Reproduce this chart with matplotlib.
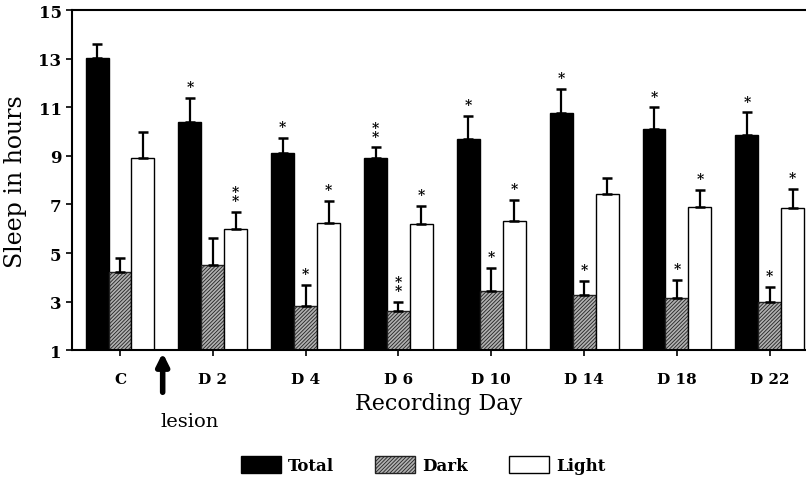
import numpy as np
import matplotlib
matplotlib.use('Agg')
import matplotlib.pyplot as plt

plt.rcParams['font.family'] = 'DejaVu Serif'
plt.rcParams['hatch.linewidth'] = 0.6

# data
days = ['C', 'D 2', 'D 4', 'D 6', 'D 10', 'D 14', 'D 18', 'D 22']
total = [13.05, 10.4, 9.1, 8.9, 9.7, 10.75, 10.1, 9.85]
total_err = [0.55, 1.0, 0.65, 0.45, 0.95, 1.0, 0.9, 0.95]
dark = [4.2, 4.5, 2.8, 2.6, 3.45, 3.25, 3.15, 3.0]
dark_err = [0.6, 1.1, 0.9, 0.4, 0.95, 0.6, 0.75, 0.6]
light = [8.9, 6.0, 6.25, 6.2, 6.3, 7.45, 6.9, 6.85]
light_err = [1.1, 0.7, 0.9, 0.75, 0.9, 0.65, 0.7, 0.8]
total_sig = ['', '*', '*', '**', '*', '*', '*', '*']
dark_sig = ['', '', '*', '**', '*', '*', '*', '*']
light_sig = ['', '**', '*', '*', '*', '', '*', '*']

x = np.arange(len(days))
w = 0.247

fig = plt.figure(figsize=(8.06, 4.85), dpi=100)
ax = fig.add_axes([0.0893, 0.276, 0.9107, 0.701])

series = [
    (total, total_err, total_sig, -w, dict(color='black', edgecolor='black'), 'Total'),
    (dark, dark_err, dark_sig, 0, dict(color='#b0b0b0', edgecolor='#222222', hatch='/////////'), 'Dark'),
    (light, light_err, light_sig, w, dict(color='white', edgecolor='black'), 'Light'),
]

for vals, err, sig, off, style, lab in series:
    ax.bar(x + off, vals, w, linewidth=1.0, label=lab, **style)
    ax.errorbar(x + off, vals, yerr=[np.zeros(len(vals)), err], fmt='none',
                ecolor='black', elinewidth=1.6, capsize=3.5, capthick=1.8)
    for xi, v, e, s in zip(x + off, vals, err, sig):
        if s:
            ax.text(xi, v + e + 0.15, '\n'.join(s), ha='center', va='bottom',
                    fontsize=10, fontweight='bold', linespacing=0.55)

ax.set_ylim(1, 15)
ax.set_xlim(-0.517, 7.39)
ax.set_yticks([1, 3, 5, 7, 9, 11, 13, 15])
ax.set_xticks(x)
ax.set_xticklabels(days)
ax.tick_params(axis='y', labelsize=12, width=1.2, length=4)
ax.tick_params(axis='x', labelsize=11, width=1.2, length=4, pad=12)
for t in ax.get_yticklabels() + ax.get_xticklabels():
    t.set_fontweight('bold')
for sp in ['left', 'bottom', 'top']:
    ax.spines[sp].set_linewidth(1.5)
ax.spines['right'].set_visible(False)

ax.set_ylabel('Sleep in hours', fontsize=17, labelpad=8)
ax.set_xlabel('Recording Day', fontsize=16, labelpad=4)

# lesion marker
ax.annotate('', xy=(0.46, 1.0), xytext=(0.46, -0.85), xycoords='data',
            annotation_clip=False,
            arrowprops=dict(arrowstyle='-|>', color='black', lw=4, mutation_scale=18))
fig.text(190 / 806, 1 - 422 / 485, 'lesion', ha='center', va='center', fontsize=14)

leg = fig.legend(loc='center', bbox_to_anchor=(0.525, 0.039), ncol=3, frameon=False,
                 fontsize=12, handlelength=2.4, handleheight=1.2, columnspacing=2.5,
                 handletextpad=0.4)
for t in leg.get_texts():
    t.set_fontweight('bold')

fig.savefig('out.png', dpi=100)
